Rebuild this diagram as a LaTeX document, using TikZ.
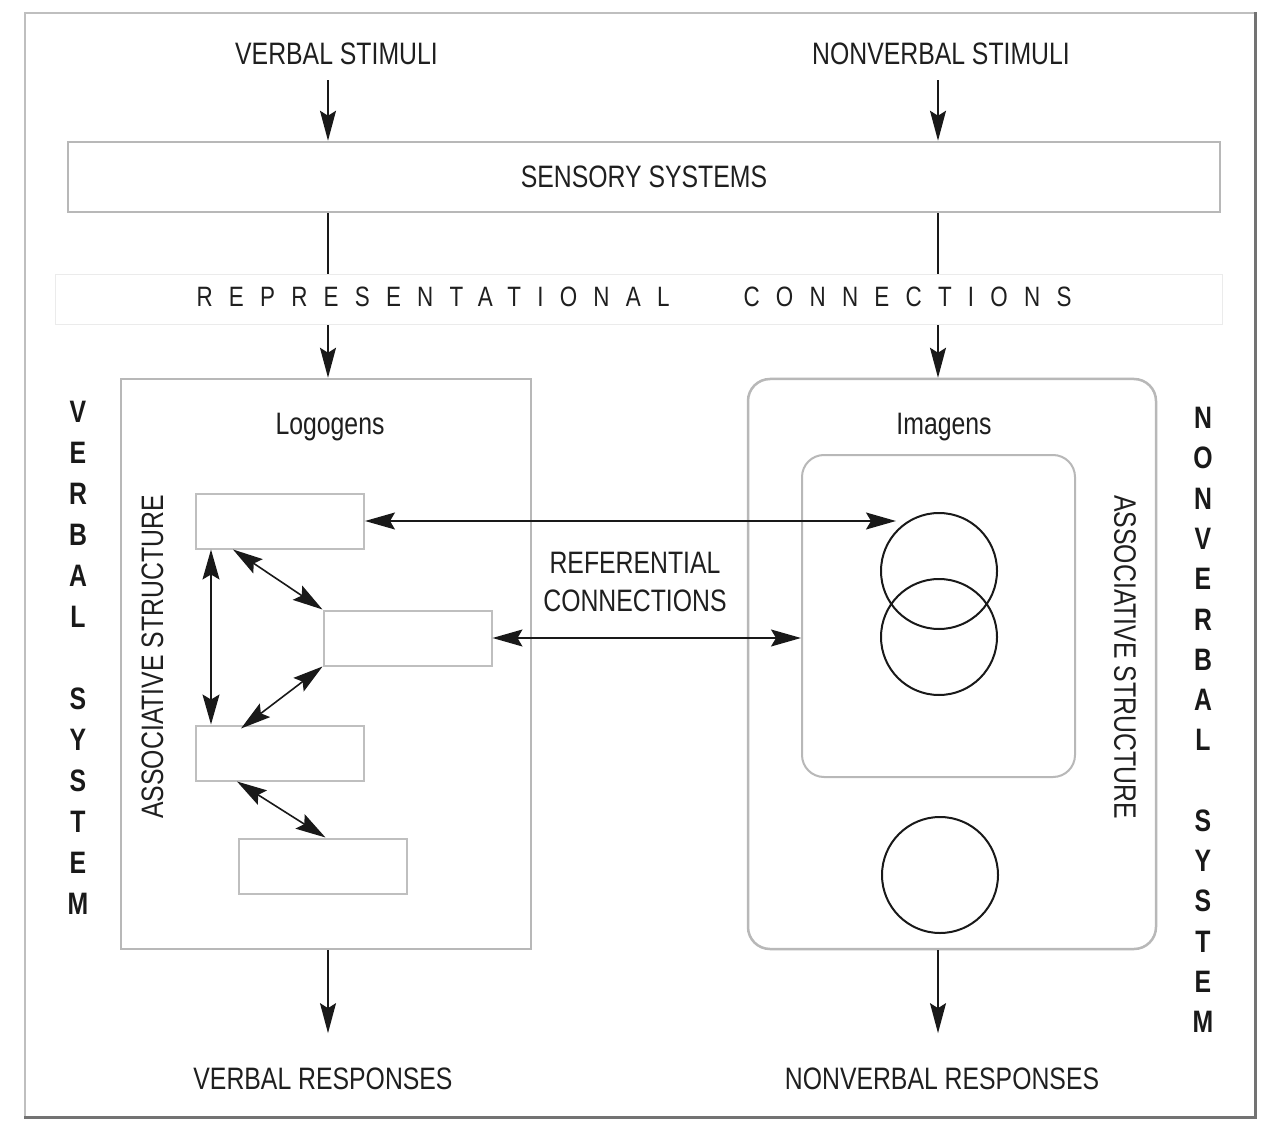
\documentclass[tikz,border=0pt]{standalone}
\usepackage{fontspec}
\newfontfamily\narrow{Liberation Sans}[FakeStretch=0.8]
\newfontfamily\spaced{Liberation Sans}[FakeStretch=0.8,LetterSpace=58]
\usetikzlibrary{arrows.meta}
\begin{document}
\begin{tikzpicture}[x=1pt,y=-1pt,
  lbl/.style={font=\narrow\fontsize{31}{36}\selectfont, text=black!88, inner sep=0pt},
  vlbl/.style={font=\narrow\bfseries\fontsize{31}{41}\selectfont, text=black!90, align=center, inner sep=0pt},
  bigbox/.style={draw=black!28, line width=2.5pt, fill=white, inner sep=0pt},
  logo/.style={draw=black!25, line width=2pt, fill=white, minimum width=168pt, minimum height=55pt, inner sep=0pt},
  circ/.style={circle, draw=black!90, line width=2pt, minimum size=116pt, inner sep=0pt},
  arr/.style={-{Stealth[length=30pt,width=16pt,inset=5pt]}, line width=1.6pt, draw=black!90},
  darr/.style={{Stealth[length=30pt,width=17pt,inset=5pt]}-{Stealth[length=30pt,width=17pt,inset=5pt]}, line width=1.6pt, draw=black!90}
]
\useasboundingbox (0,0) rectangle (1266,1131);
\fill[white] (0,0) rectangle (1266,1131);

% outer frame
\node[draw=black!25, line width=1.5pt, minimum width=1230pt, minimum height=1104pt, inner sep=0pt] (frame) at (640,565) {};
\draw[black!55, line width=3pt] (frame.south west) -- (frame.south east) -- (frame.north east);

\coordinate (L) at (328,0);
\coordinate (R) at (938,0);

% top labels
\node[lbl, anchor=base] (vs) at (336.5,65) {VERBAL STIMULI};
\node[lbl, anchor=base] (nvs) at (941,65) {NONVERBAL STIMULI};

% sensory systems
\node[bigbox, minimum width=1152pt, minimum height=70pt, font=\narrow\fontsize{31}{36}\selectfont, text=black!88] (sens) at (644,177) {SENSORY SYSTEMS};

% representational connections band
\node[draw=black!8, line width=1pt, fill=white, minimum width=1167pt, minimum height=50pt, inner sep=0pt] (rep) at (638.5,300) {};
\node[inner sep=0pt, font=\spaced\fontsize{28}{32}\selectfont, text=black!88] (reptxt) at (634,297) {REPRESENTATIONAL\hspace{74pt}CONNECTIONS};

% main boxes
\node[bigbox, minimum width=410pt, minimum height=570pt] (lbox) at (326,664) {};
\node[bigbox, rounded corners=22pt, minimum width=408pt, minimum height=570pt] (rbox) at (952,664) {};
\node[draw=black!28, line width=2pt, rounded corners=22pt, minimum width=273pt, minimum height=322pt, inner sep=0pt] (inner) at (938.5,616) {};

\node[lbl, anchor=base] (logogens) at (330,434) {Logogens};
\node[lbl, anchor=base] (imagens) at (944,434) {Imagens};

% logogens
\node[logo] (r1) at (280,521) {};
\node[logo] (r2) at (407.5,638) {};
\node[logo] (r3) at (280,753) {};
\node[logo] (r4) at (322.5,866) {};

% imagens
\node[circ] (c1) at (939,571) {};
\node[circ] (c2) at (939,637) {};
\node[circ] (c3) at (940,875) {};

% associative structure labels
\node[lbl, rotate=90] (asl) at (152.5,657) {ASSOCIATIVE STRUCTURE};
\node[lbl, rotate=-90] (asr) at (1125,657) {ASSOCIATIVE STRUCTURE};

% referential connections
\node[lbl, align=center, font=\narrow\fontsize{31}{38}\selectfont] (ref) at (635,582) {REFERENTIAL\\CONNECTIONS};

% system labels
\node[vlbl] (vsys) at (78,657.5) {V\\E\\R\\B\\A\\L\\[41pt]S\\Y\\S\\T\\E\\M};
\node[vlbl, font=\narrow\bfseries\fontsize{31}{40.3}\selectfont] (nvsys) at (1203,720) {N\\O\\N\\V\\E\\R\\B\\A\\L\\[40pt]S\\Y\\S\\T\\E\\M};

% responses
\node[lbl, anchor=base] (vr) at (323,1089) {VERBAL RESPONSES};
\node[lbl, anchor=base] (nvr) at (942,1089) {NONVERBAL RESPONSES};

% vertical flow
\draw[arr, shorten <=15pt] (vs.south -| L) -- (sens.north -| L);
\draw[arr, shorten <=15pt] (nvs.south -| R) -- (sens.north -| R);
\draw[line width=1.6pt, black!90] (sens.south -| L) -- (rep.north -| L);
\draw[line width=1.6pt, black!90] (sens.south -| R) -- (rep.north -| R);
\draw[arr] (rep.south -| L) -- (lbox.north -| L);
\draw[arr] (rep.south -| R) -- (rbox.north -| R);
\draw[arr, shorten >=34pt] (lbox.south -| L) -- (vr.north -| L);
\draw[arr, shorten >=34pt] (rbox.south -| R) -- (nvr.north -| R);

% referential connections
\coordinate (t1) at (896,521);
\draw[darr] (r1.east) -- (t1);
\draw[darr] (r2.east) -- (r2.east -| inner.west);

% associative connections
\draw[darr] ([xshift=16pt]r1.south west) -- ([xshift=16pt]r3.north west);
\draw[darr] ([xshift=38pt]r1.south west) -- (r2.north west);
\draw[darr] (r2.south west) -- ([xshift=46pt,yshift=-4pt]r3.north west);
\draw[darr] ([xshift=42pt]r3.south west) -- ([xshift=88pt]r4.north west);
\end{tikzpicture}
\end{document}
